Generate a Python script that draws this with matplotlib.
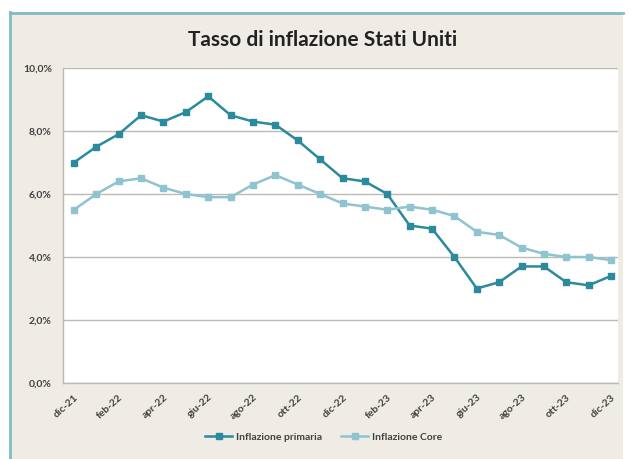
import matplotlib
matplotlib.use("Agg")
import matplotlib.pyplot as plt
from matplotlib.patches import Rectangle
from matplotlib.lines import Line2D
from matplotlib.ticker import FuncFormatter

months = ["dic-21", "gen-22", "feb-22", "mar-22", "apr-22", "mag-22", "giu-22", "lug-22",
          "ago-22", "set-22", "ott-22", "nov-22", "dic-22", "gen-23", "feb-23", "mar-23",
          "apr-23", "mag-23", "giu-23", "lug-23", "ago-23", "set-23", "ott-23", "nov-23", "dic-23"]
primaria = [7.0, 7.5, 7.9, 8.5, 8.3, 8.6, 9.1, 8.5, 8.3, 8.2, 7.7, 7.1, 6.5, 6.4, 6.0, 5.0,
            4.9, 4.0, 3.0, 3.2, 3.7, 3.7, 3.2, 3.1, 3.4]
core = [5.5, 6.0, 6.4, 6.5, 6.2, 6.0, 5.9, 5.9, 6.3, 6.6, 6.3, 6.0, 5.7, 5.6, 5.5, 5.6,
        5.5, 5.3, 4.8, 4.7, 4.3, 4.1, 4.0, 4.0, 3.9]
yticks = [0, 2, 4, 6, 8, 10]
title = "Tasso di inflazione Stati Uniti"
labels = ["Inflazione primaria", "Inflazione Core"]

c_prim = "#2b8a9b"
c_core = "#8ec3cf"
bg = "#eeece5"

plt.rcParams['font.family'] = ['Lato', 'DejaVu Sans']

fig = plt.figure(figsize=(6.31, 4.59), dpi=100, facecolor="white")
# background panel with teal top/left border
fig.add_artist(Rectangle((10/631, 0.0), 613/631, 1 - 12/459, transform=fig.transFigure,
                         facecolor=bg, edgecolor="none", zorder=-10))
fig.add_artist(Line2D([10/631, 623/631], [1 - 13/459, 1 - 13/459], transform=fig.transFigure,
                      color="#7fbcc4", lw=2.0, zorder=-5))
fig.add_artist(Line2D([10/631, 10/631], [0.0, 1 - 12/459], transform=fig.transFigure,
                      color="#7fbcc4", lw=2.0, zorder=-5))

ax = fig.add_axes([63/631, 1 - 383/459, (618 - 63)/631, (383 - 68)/459])
ax.set_zorder(1)
ax.set_facecolor("white")
x = list(range(len(months)))
ax.plot(x, primaria, color=c_prim, lw=1.8, marker="s", markersize=5, zorder=3,
        label=labels[0])
ax.plot(x, core, color=c_core, lw=1.8, marker="s", markersize=5, zorder=3,
        label=labels[1])

ax.set_xlim(-0.49, 24.31)
ax.set_ylim(0, 10)
ax.set_yticks(yticks)
ax.yaxis.set_major_formatter(FuncFormatter(lambda v, p: f"{v:.1f}%".replace(".", ",")))
ax.set_xticks(x[::2])
ax.set_xticklabels(months[::2], rotation=42, ha="right", va="top", rotation_mode="anchor",
                   fontsize=7.5, fontweight="bold", color="#404040")
for lbl in ax.get_yticklabels():
    lbl.set_fontsize(7.5)
    lbl.set_fontweight("bold")
    lbl.set_color("#404040")
ax.tick_params(axis="y", length=0, pad=8)
ax.tick_params(axis="x", length=0, pad=7)
ax.grid(axis="y", color="#bcbab5", lw=1.0)
ax.set_axisbelow(True)
for s in ["top", "right"]:
    ax.spines[s].set_visible(False)
for s in ["left", "bottom"]:
    ax.spines[s].set_color("#bcbab5")
    ax.spines[s].set_linewidth(1.0)

fig.text(323/631, 1 - 40/459, title, ha="center", va="center", fontsize=15, fontweight="bold",
         color="#222222")

leg = fig.legend(loc="center", bbox_to_anchor=(324/631, 1 - 437/459), ncol=2, frameon=False,
                 fontsize=7.5, handlelength=2.6, handletextpad=0.4, columnspacing=1.8)
for t in leg.get_texts():
    t.set_fontweight("bold")
    t.set_color("#404040")

fig.savefig("out.png", dpi=100, facecolor=fig.get_facecolor())
